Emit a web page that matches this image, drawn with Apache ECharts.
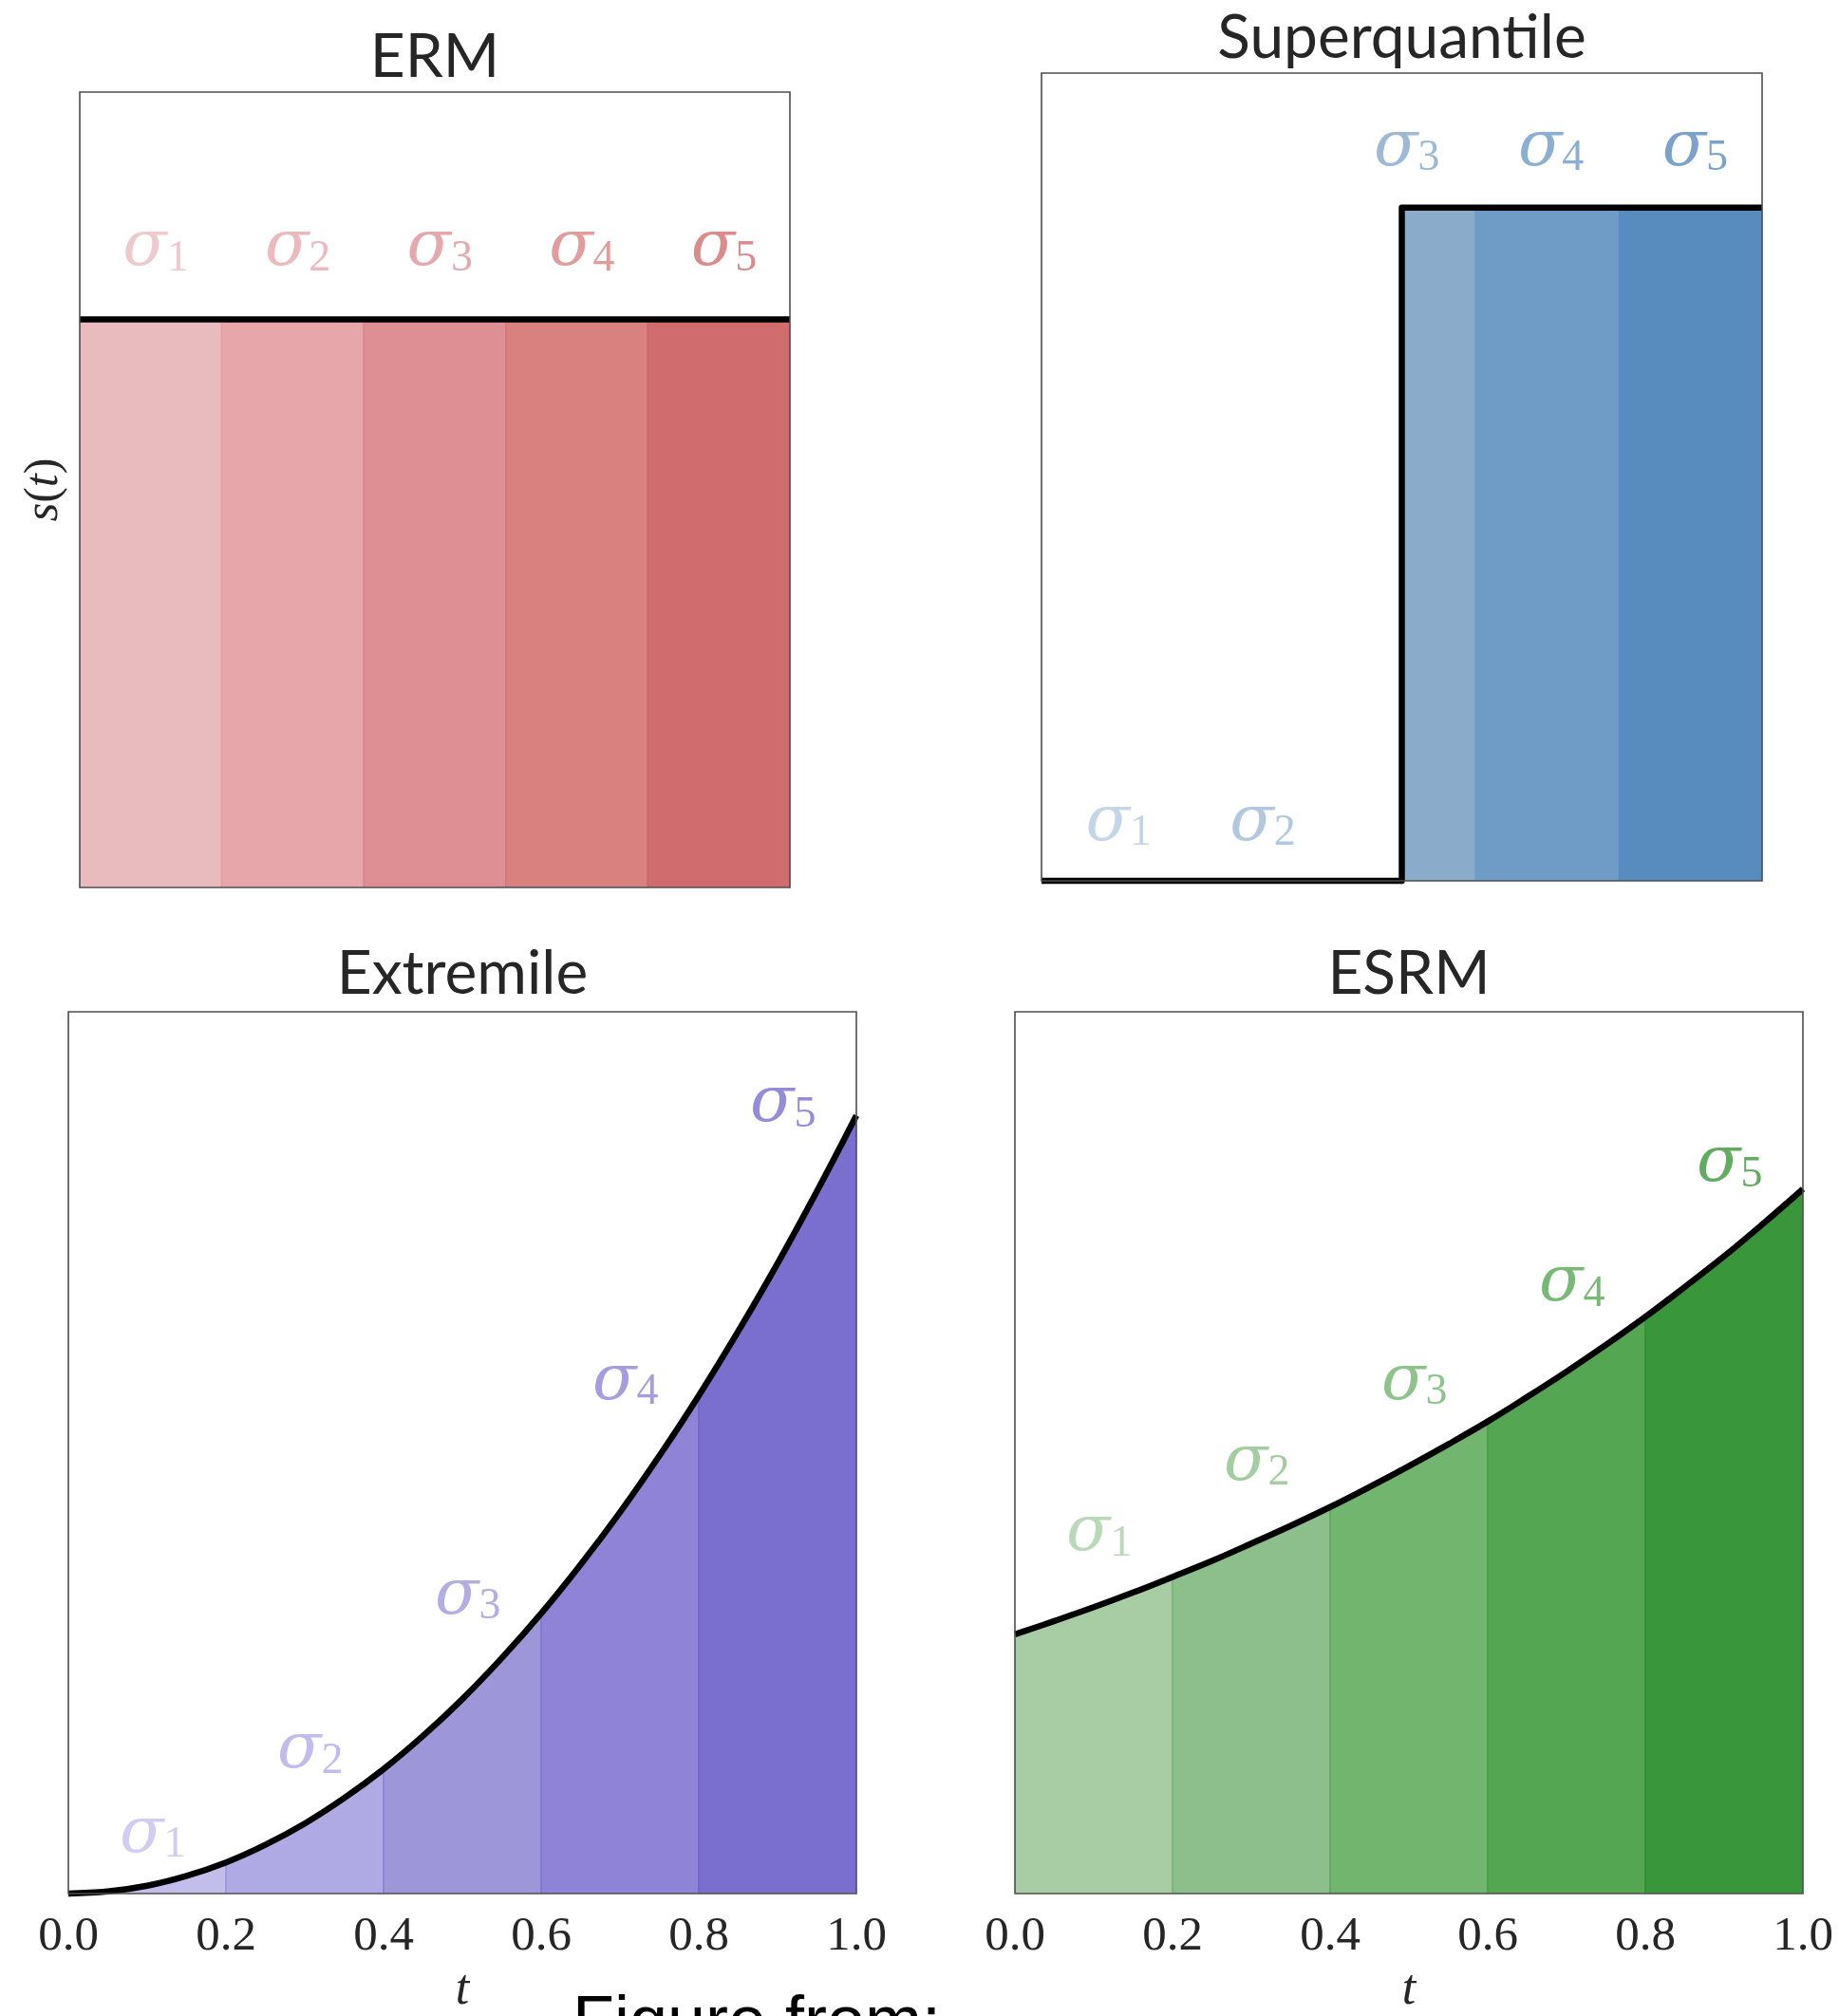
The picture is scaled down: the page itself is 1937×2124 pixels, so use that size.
<!DOCTYPE html>
<html>
<head>
<meta charset="utf-8">
<script src="https://cdn.jsdelivr.net/npm/echarts@6/dist/echarts.min.js"></script>
<style>
html,body{margin:0;padding:0;background:#ffffff;}
#c{width:1937px;height:2124px;}
</style>
</head>
<body>
<div id="c"></div>
<script>
// ---------------- data ----------------
const tGrid = [0, 0.05, 0.1, 0.15, 0.2, 0.25, 0.3, 0.35, 0.4, 0.45, 0.5, 0.55, 0.6, 0.65, 0.7, 0.75, 0.8, 0.85, 0.9, 0.95, 1.0];
const ermS  = [1, 1, 1, 1, 1, 1, 1, 1, 1, 1, 1, 1, 1, 1, 1, 1, 1, 1, 1, 1, 1];
const sqT   = [0, 0.2, 0.4, 0.5, 0.5, 0.6, 0.8, 1.0];
const sqS   = [0, 0, 0, 0, 2, 2, 2, 2];
const extS  = [0, 0.008, 0.03, 0.068, 0.12, 0.188, 0.27, 0.368, 0.48, 0.608, 0.75, 0.908, 1.08, 1.268, 1.47, 1.688, 1.92, 2.168, 2.43, 2.708, 3.0];
const esrmS = [0.582, 0.612, 0.643, 0.676, 0.711, 0.747, 0.786, 0.826, 0.868, 0.913, 0.960, 1.009, 1.060, 1.115, 1.172, 1.232, 1.295, 1.362, 1.431, 1.505, 1.582];
const segEdges   = [0, 0.2, 0.4, 0.6, 0.8, 1.0];
const tickLabels = ['0.0', '0.2', '0.4', '0.6', '0.8', '1.0'];
const titles     = ['ERM', 'Superquantile', 'Extremile', 'ESRM'];
const yMaxes     = [1.4, 2.4, 3.4, 1.98];
const labelX     = [0.107, 0.307, 0.507, 0.707, 0.907];
const ermLabelY  = [1.125, 1.125, 1.125, 1.125, 1.125];
const sqLabelY   = [0.172, 0.172, 2.177, 2.177, 2.177];
const extLabelY  = [0.226, 0.551, 1.146, 1.972, 3.042];
const esrmLabelY = [0.809, 0.967, 1.148, 1.369, 1.638];
const sigmaNames = ['1', '2', '3', '4', '5'];

// ---------------- styling / layout ----------------
const panels = [
  { grid: {left: 84,   top: 97,   width: 748, height: 838}, t: tGrid, s: ermS,  labY: ermLabelY,  smooth: false, bottom: false, yName: true,
    fills: ['#e9bbbe', '#e7a6aa', '#dd8f93', '#d8817e', '#d06b6e'],
    edges: ['#e4adb1', '#e29ca0', '#d98489', '#d47779', '#cd6366'],
    labs:  ['#eabdc0', '#e7a8ac', '#de9297', '#d98583', '#d26d70'] },
  { grid: {left: 1097, top: 77,   width: 759, height: 851}, t: sqT,   s: sqS,   labY: sqLabelY,   smooth: false, bottom: false, yName: false,
    fills: ['#b3c8de', '#9fbad6', '#8aabca', '#6f9cc6', '#588cbe'],
    edges: ['#b3c8de', '#9fbad6', '#8aabca', '#86aacd', '#6a98c4'],
    labs:  ['#b4cbe2', '#9dbad8', '#85a8cc', '#6e9bc7', '#598bbf'] },
  { grid: {left: 72,   top: 1066, width: 830, height: 932}, t: tGrid, s: extS,  labY: extLabelY,  smooth: 0.4, bottom: true, yName: false,
    fills: ['#c3bdeb', '#b0aae4', '#9d97da', '#8e83d6', '#7a6ecf'],
    edges: ['#b6aee6', '#9c93df', '#8b82d8', '#8378d6', '#7164cd'],
    labs:  ['#c5bfed', '#b1abe6', '#9f98dd', '#8f85d8', '#7b6fd0'] },
  { grid: {left: 1069, top: 1066, width: 830, height: 932}, t: tGrid, s: esrmS, labY: esrmLabelY, smooth: 0.4, bottom: true, yName: false,
    fills: ['#a8cda5', '#8cbf8b', '#72b56f', '#55a653', '#3a963a'],
    edges: ['#9ac699', '#72b56f', '#5eab5b', '#45a043', '#2f8f30'],
    labs:  ['#a9cfa6', '#8dc18b', '#72b56f', '#56a754', '#3b973b'] }
];

const TEXT = '#262626';
const grids = [], xAxes = [], yAxes = [], series = [], graphics = [];

panels.forEach((p, i) => {
  grids.push(Object.assign({show: true, z: 10, backgroundColor: 'transparent', borderColor: '#4d4d4d', borderWidth: 1.6, containLabel: false}, p.grid));
  xAxes.push({
    gridIndex: i, type: 'value', min: 0, max: 1, interval: 0.2,
    axisLine: {show: false}, axisTick: {show: false}, splitLine: {show: false},
    axisLabel: {show: p.bottom, margin: 20, color: TEXT, fontFamily: 'Liberation Serif', fontSize: 51,
      formatter: v => tickLabels[Math.round(v / 0.2)]},
    name: p.bottom ? 't' : '', nameLocation: 'middle', nameGap: 76,
    nameTextStyle: {color: TEXT, fontFamily: 'Liberation Serif', fontStyle: 'italic', fontSize: 52}
  });
  yAxes.push({
    gridIndex: i, type: 'value', min: 0, max: yMaxes[i],
    axisLine: {show: false}, axisTick: {show: false}, splitLine: {show: false}, axisLabel: {show: false},
    name: p.yName ? '{i|s}{u|(}{i|t}{u|)}' : '', nameLocation: 'middle', nameGap: 12, nameRotate: 90,
    nameTextStyle: {color: TEXT, fontFamily: 'Liberation Serif', fontSize: 50,
      rich: {i: {fontFamily: 'Liberation Serif', fontStyle: 'italic', fontSize: 50, color: TEXT},
             u: {fontFamily: 'Liberation Serif', fontSize: 50, color: TEXT}}}
  });

  // coloured segments
  for (let k = 0; k < 5; k++) {
    const a = segEdges[k], b = segEdges[k + 1];
    const pts = [];
    p.t.forEach((tv, j) => { if (tv >= a - 1e-9 && tv <= b + 1e-9) pts.push([tv, p.s[j]]); });
    const data = (k > 0 ? [[a, 0]] : []).concat(pts).concat(k < 4 ? [[b, 0]] : []);
    series.push({
      type: 'line', xAxisIndex: i, yAxisIndex: i, data: data, symbol: 'none', silent: true,
      lineStyle: {color: p.edges[k], width: 1.6}, areaStyle: {color: p.fills[k], opacity: 1, origin: 'start'},
      z: 2, animation: false
    });
  }
  // black curve
  series.push({
    type: 'line', xAxisIndex: i, yAxisIndex: i, data: p.t.map((tv, j) => [tv, p.s[j]]),
    symbol: 'none', smooth: p.smooth, clip: false, silent: true,
    lineStyle: {color: '#000000', width: 6.5, cap: 'butt', join: 'round'}, z: 4, animation: false
  });
  // sigma labels
  const rich = {};
  for (let k = 0; k < 5; k++) {
    rich['s' + k] = {fontFamily: 'DejaVu Serif', fontStyle: 'italic', fontSize: 68, color: p.labs[k], lineHeight: 68};
    rich['d' + k] = {fontFamily: 'Liberation Serif', fontSize: 46, color: p.labs[k], lineHeight: 22, verticalAlign: 'bottom'};
  }
  series.push({
    type: 'scatter', xAxisIndex: i, yAxisIndex: i, symbolSize: 1, silent: true, z: 5, animation: false,
    itemStyle: {color: 'rgba(0,0,0,0)'},
    data: labelX.map((x, k) => ({value: [x, p.labY[k]]})),
    label: {show: true, position: 'inside', offset: [0, 0], rich: rich,
      formatter: prm => '{s' + prm.dataIndex + '|σ}{d' + prm.dataIndex + '|' + sigmaNames[prm.dataIndex] + '}'}
  });

  // title
  graphics.push({
    type: 'text', x: p.grid.left + p.grid.width / 2, y: [60, 40, 1026, 1026][i], z: 20,
    style: {text: titles[i], fill: TEXT, font: '64px Lato', align: 'center', verticalAlign: 'middle'}
  });
});

graphics.push({
  type: 'text', x: 603, y: 2133, z: 20,
  style: {text: 'Figure from:', fill: '#000000', font: '72px "Liberation Sans"', align: 'left', verticalAlign: 'middle'}
});

const chart = echarts.init(document.getElementById('c'), null, {renderer: 'canvas'});
chart.setOption({
  animation: false,
  backgroundColor: '#ffffff',
  grid: grids, xAxis: xAxes, yAxis: yAxes, series: series, graphic: graphics
});
</script>
</body>
</html>
